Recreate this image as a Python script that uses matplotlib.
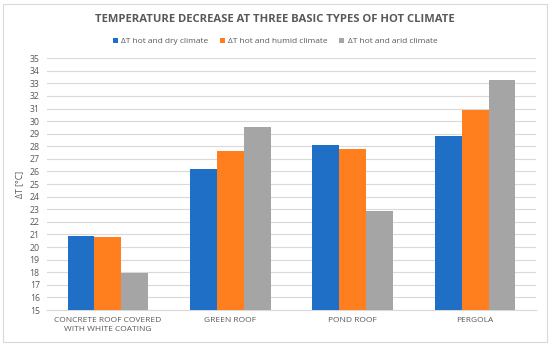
import numpy as np
import matplotlib.pyplot as plt
from matplotlib.patches import Rectangle

plt.rcParams["font.family"] = ["Open Sans", "DejaVu Sans"]

# data
categories = ["CONCRETE ROOF COVERED\nWITH WHITE COATING", "GREEN ROOF", "POND ROOF", "PERGOLA"]
series_names = ["ΔT hot and dry climate", "ΔT hot and humid climate", "ΔT hot and arid climate"]
dry = [20.9, 26.2, 28.1, 28.8]
humid = [20.8, 27.6, 27.8, 30.9]
arid = [17.9, 29.5, 22.9, 33.3]
colors = ["#1F6FC6", "#FF7F1F", "#A5A5A5"]

fig = plt.figure(figsize=(5.5, 3.46), dpi=100)
ax = fig.add_axes([0.085, 0.104, 0.89, 0.728])

# light frame round the whole chart
fig.patches.append(Rectangle((0.006, 0.012), 0.988, 0.976, transform=fig.transFigure,
                             fill=False, edgecolor="#D9D9D9", linewidth=0.8))

x = np.arange(len(categories))
w = 0.22
for i, (vals, name) in enumerate(zip([dry, humid, arid], series_names)):
    ax.bar(x + (i - 1) * w, np.array(vals) - 15, bottom=15, width=w,
           color=colors[i], label=name, zorder=3)

ax.set_xlim(-0.5, len(categories) - 0.5)
ax.set_ylim(15, 35)
ax.set_yticks(np.arange(15, 36, 1))
ax.grid(axis="y", color="#D9D9D9", linewidth=0.8, zorder=0)
for s in ["top", "right", "left"]:
    ax.spines[s].set_visible(False)
ax.spines["bottom"].set_color("#D9D9D9")
ax.tick_params(axis="both", length=0, labelsize=6.3, colors="#595959", pad=5)
ax.set_xticks(x)
ax.set_xticklabels(categories, fontsize=6, color="#595959", linespacing=1.5)
ax.set_ylabel("ΔT [°C]", fontsize=6.3, color="#595959", labelpad=4)

fig.text(0.5, 0.945, "TEMPERATURE DECREASE AT THREE BASIC TYPES OF HOT CLIMATE",
         ha="center", va="center", fontsize=8.1, fontweight="bold", color="#595959")
fig.legend(loc="center", bbox_to_anchor=(0.5, 0.88), ncol=3, frameon=False,
           fontsize=6, labelcolor="#595959", handlelength=0.6, handleheight=0.6,
           columnspacing=1.4, handletextpad=0.4)

plt.savefig("out.png", dpi=100)
